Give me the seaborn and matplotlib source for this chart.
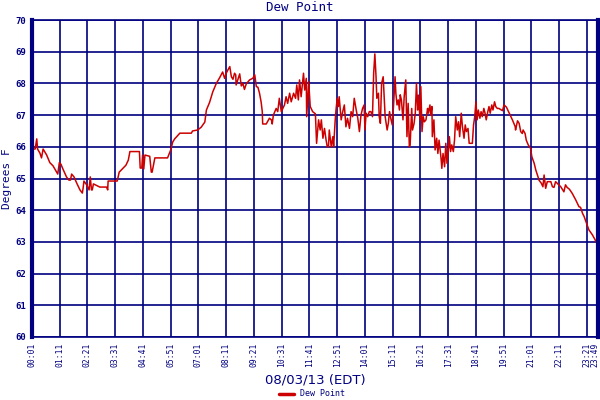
import matplotlib
matplotlib.use("Agg")

import matplotlib.pyplot as plt
import matplotlib.transforms as mtransforms
import numpy as np
import pandas as pd
import seaborn as sns

# minutes after midnight, 08/03/13, and dew point (deg F)
minutes = [
    1, 2, 9, 13, 15, 21, 25, 27, 29, 38, 46, 54, 63, 66, 70, 74, 79, 88, 94, 98,
    101, 107, 114, 122, 128, 130, 132, 139, 145, 148, 151, 153, 156, 172, 189, 192, 193, 216, 221, 231,
    238, 244, 248, 268, 272, 274, 278, 280, 283, 286, 298, 302, 304, 311, 343, 351, 356, 361, 374, 403,
    406, 419, 428, 437, 441, 449, 457, 466, 474, 482,
    487, 491, 495, 500, 504, 508, 512, 515, 516, 520, 525, 529, 533, 537, 542, 546, 550, 558, 563, 567,
    571, 575, 579, 582, 583, 592, 600, 605, 607, 610, 617, 621, 625, 630, 638, 642, 646, 651, 655, 661,
    666, 669, 673, 676, 680, 686, 689, 693, 694, 699, 703, 709, 716, 719,
    724, 728, 731, 735, 739, 743, 746, 749, 751, 756, 760, 762, 766, 768, 771, 774, 776, 781, 785, 789,
    793, 797, 802, 806, 810, 814, 819, 823, 827, 831, 835, 839, 841, 844, 848, 852, 856, 860, 863, 866,
    869, 871, 875, 877, 880, 883, 887, 890, 892, 897, 900, 903, 907, 910, 913, 917, 919, 922, 925, 928,
    930, 933, 937, 940, 944, 947, 950, 953,
    955, 959, 961, 965, 968, 971, 974, 976, 980, 982, 985, 988, 991, 995, 999, 1001, 1005, 1007, 1010, 1011,
    1015, 1018, 1022, 1025, 1028, 1033, 1035, 1038, 1042, 1045, 1048, 1051, 1054, 1057, 1060, 1064, 1067, 1070, 1074, 1077,
    1080, 1084, 1087, 1091, 1094, 1097, 1101, 1104, 1112, 1115, 1118, 1121, 1124, 1127, 1131, 1134, 1137, 1141, 1144, 1147,
    1151, 1154, 1157, 1161, 1164, 1168, 1171, 1175,
    1179, 1188, 1192, 1198, 1205, 1213, 1220, 1221, 1226, 1230, 1234, 1238, 1240, 1245, 1248, 1253, 1259, 1262, 1268, 1272,
    1278, 1280, 1286, 1290, 1293, 1297, 1301, 1310, 1314, 1318, 1322, 1326, 1335, 1343, 1347, 1351, 1357, 1364, 1373, 1381,
    1385, 1390, 1394, 1400, 1406, 1415, 1422, 1428,
]
dew_point = [
    66.33, 65.93, 65.93, 66.25, 65.93, 65.80, 65.65, 65.80, 65.93, 65.74, 65.50, 65.40, 65.20, 65.14, 65.50, 65.45, 65.30, 65.05, 64.95, 64.95,
    65.14, 65.05, 64.85, 64.64, 64.54, 64.70, 64.92, 64.80, 64.64, 65.05, 64.64, 64.64, 64.83, 64.73, 64.73, 64.64, 64.92, 64.92, 65.20, 65.33,
    65.42, 65.58, 65.85, 65.85, 65.85, 65.33, 65.33, 65.74, 65.30, 65.74, 65.70, 65.20, 65.20, 65.65, 65.65, 65.90, 66.15, 66.25, 66.43, 66.43,
    66.50, 66.53, 66.62, 66.78, 67.16, 67.40, 67.73, 68.00, 68.17, 68.36,
    68.16, 68.32, 68.42, 68.53, 68.21, 68.13, 68.32, 68.27, 67.95, 68.11, 68.30, 67.92, 68.00, 67.81, 68.00, 68.05, 68.11, 68.16, 68.27, 67.90,
    67.88, 67.69, 67.42, 67.11, 66.72, 66.72, 66.90, 66.85, 66.72, 67.00, 67.21, 67.11, 67.53, 67.11, 67.32, 67.58, 67.37, 67.69, 67.42, 67.69,
    67.53, 67.95, 67.48, 68.11, 67.58, 68.32, 67.79, 68.16, 66.95, 68.05, 67.27, 67.11, 67.04, 66.11,
    66.85, 66.53, 66.85, 66.27, 66.58, 66.21, 66.00, 66.00, 66.53, 66.00, 66.32, 66.00, 66.85, 67.16, 67.53, 67.27, 67.58, 66.85, 67.11, 67.32,
    66.63, 66.90, 66.58, 67.11, 66.95, 67.53, 67.16, 66.90, 66.48, 67.00, 67.21, 67.32, 66.53, 67.06, 66.95, 67.11, 67.11, 66.95, 68.32, 68.93,
    68.21, 67.53, 67.69, 66.95, 66.74, 68.00, 68.21, 67.48, 66.95, 66.53, 66.74, 67.11, 66.85, 66.69, 67.27, 68.21, 67.69, 67.32, 67.48, 67.16,
    67.64, 67.48, 66.85, 67.58, 68.11, 66.32, 67.37, 66.00,
    66.06, 67.21, 66.53, 66.74, 67.06, 68.00, 67.16, 67.63, 66.85, 67.90, 66.48, 66.95, 66.79, 66.85, 67.21, 67.06, 67.32, 67.00, 67.27, 66.32,
    66.85, 65.90, 66.27, 65.79, 66.21, 65.64, 65.32, 65.79, 65.37, 66.11, 65.48, 65.85, 66.32, 65.85, 66.06, 65.85, 66.21, 66.95, 66.53, 66.79,
    66.32, 67.06, 66.63, 66.27, 66.69, 66.48, 66.58, 66.11, 66.11, 66.69, 66.95, 67.42, 66.85, 67.16, 66.90, 67.11, 66.95, 67.21, 67.06, 66.85,
    67.11, 67.27, 67.06, 67.32, 67.16, 67.42, 67.27, 67.21,
    67.21, 67.14, 67.32, 67.25, 67.06, 66.85, 66.64, 66.53, 66.82, 66.74, 66.48, 66.42, 66.53, 66.42, 66.21, 66.06, 65.95, 65.69, 65.48, 65.27,
    65.04, 64.95, 64.85, 64.74, 65.11, 64.69, 64.90, 64.90, 64.74, 64.72, 64.90, 64.85, 64.74, 64.58, 64.80, 64.72, 64.66, 64.53, 64.32, 64.11,
    64.09, 63.90, 63.80, 63.59, 63.38, 63.22, 63.06, 62.90,
]

# x ticks every 70 minutes from 00:01, plus the last reading
tick_minutes = [1 + 70 * k for k in range(21)] + [1429]
tick_labels = [f"{m // 60:02d}:{m % 60:02d}" for m in tick_minutes]
y_ticks = list(range(60, 71))

df = pd.DataFrame({"minute": minutes, "Dew Point": dew_point})

navy = "#000080"
red = "#cc0000"
mono = "DejaVu Sans Mono"

sns.set_style("white")
plt.rcParams["font.family"] = ["DejaVu Sans"]

fig = plt.figure(figsize=(6, 4), dpi=100)
ax = fig.add_axes([32 / 600, 1 - 337 / 400, 566 / 600, 317 / 400])

sns.lineplot(data=df, x="minute", y="Dew Point", color=red, linewidth=1.1,
             estimator=None, ax=ax, label="Dew Point", legend=False)

ax.set_xlim(1, 1429)
ax.set_ylim(60, 70)
ax.set_xticks(tick_minutes)
ax.set_xticklabels(tick_labels, rotation=90, fontsize=5.8, family=mono, color=navy)
ax.set_yticks(y_ticks)
ax.set_yticklabels([str(v) for v in y_ticks], fontsize=6.5, family=mono,
                   color=navy, fontweight="bold")
ax.tick_params(length=0, pad=4)

# last label sits against the right edge, nudge it left a little
last = ax.get_xticklabels()[-1]
last.set_transform(last.get_transform() + mtransforms.ScaledTranslation(-3.5 / 100, 0, fig.dpi_scale_trans))

ax.grid(True, color=navy, linewidth=1.2)
ax.set_axisbelow(True)
for side, sp in ax.spines.items():
    sp.set_color(navy)
    sp.set_linewidth(1.2)
ax.spines["left"].set_linewidth(3)
ax.spines["right"].set_linewidth(3)

ax.set_xlabel("08/03/13 (EDT)", fontsize=9.5, color=navy, labelpad=5)
ax.set_ylabel("Degrees F", fontsize=8, family=mono, color=navy, labelpad=3)
fig.text(0.5, 0.997, "Dew Point", ha="center", va="top", fontsize=9,
         family=mono, color=navy)

handles, labels = ax.get_legend_handles_labels()
fig.legend(handles, labels, loc="lower center", bbox_to_anchor=(0.52, -0.015),
           frameon=False, prop={"family": mono, "size": 6},
           handlelength=1.8, labelcolor=navy)
for line in fig.legends[0].get_lines():
    line.set_linewidth(2.5)

fig.savefig("out.png", dpi=100)
